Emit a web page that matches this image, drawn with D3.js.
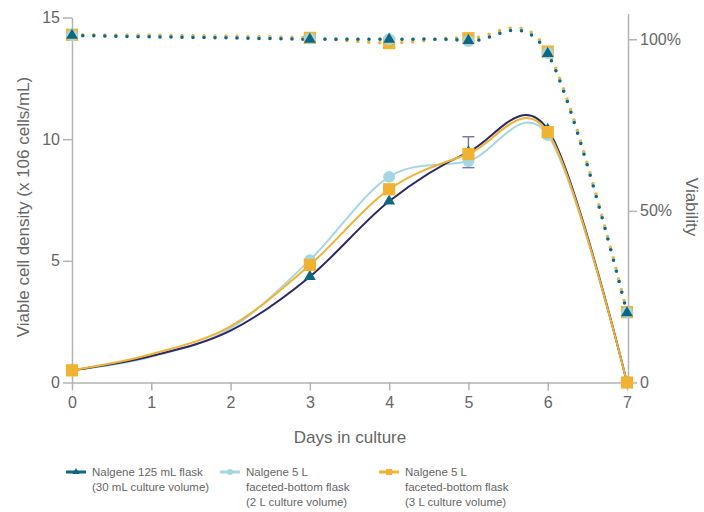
<!DOCTYPE html>
<html>
<head>
<meta charset="utf-8">
<script src="https://cdn.jsdelivr.net/npm/d3@7"></script>
<style>
  body { margin: 0; background: #fff; }
  text { font-family: "Liberation Sans", Arial, sans-serif; fill: #666; }
</style>
</head>
<body>
<script>
// days with values (days 1 and 2 are drawn without markers)
const days = [0, 1, 2, 3, 4, 5, 6, 7];
const markerDays = [0, 3, 4, 5, 6, 7];

// viable cell density (x10^6 cells/mL)
const vcd125 = [0.5, 1.09, 2.13, 4.35, 7.45, 9.47, 10.4, 0];
const vcd5L2 = [0.5, 1.06, 2.23, 5.03, 8.45, 9.1, 10.17, 0];
const vcd5L3 = [0.5, 1.16, 2.31, 4.83, 7.94, 9.39, 10.29, 0];

// error bar on the 125 mL flask at day 5
const errDay = 5;
const errLow = 8.83;
const errHigh = 10.1;

// viability (%)
const via125 = [101.1, 100.7, 100.4, 100, 100, 99.6, 95.8, 20.3];
const via5L2 = [101.2, 100.8, 100.5, 100.2, 100, 99.5, 96, 20.4];
const via5L3 = [101.3, 101.2, 100.9, 100.4, 98.9, 100.3, 96.4, 20.5];

const xTicks = [0, 1, 2, 3, 4, 5, 6, 7];
const yTicks = [0, 5, 10, 15];
const rTicks = [0, 50, 100];

const legendLabels = [
  ["Nalgene 125 mL flask", "(30 mL culture volume)"],
  ["Nalgene 5 L", "faceted-bottom flask", "(2 L culture volume)"],
  ["Nalgene 5 L", "faceted-bottom flask", "(3 L culture volume)"]
];

let width = 704, height = 512;

const teal = "#0f6680", navy = "#2c2966", lightBlue = "#a5d7e1", orange = "#f0b232";
const axisColor = "#b3b3b3";

let svg = d3.select("body").append("svg")
  .attr("width", width)
  .attr("height", height);

let xScale = d3.scaleLinear().domain([0, 7]).range([72, 627]);
let yScale = d3.scaleLinear().domain([0, 15]).range([382.5, 17.5]);
let rScale = d3.scaleLinear().domain([0, 107.5]).range([382.5, 13.5]);

// axes
let xAxis = svg.append("g")
  .attr("transform", "translate(0,382.5)")
  .call(d3.axisBottom(xScale).tickValues(xTicks).tickFormat(d3.format("d")).tickSize(8).tickPadding(6).tickSizeOuter(0));
let yAxis = svg.append("g")
  .attr("transform", "translate(72,0)")
  .call(d3.axisLeft(yScale).tickValues(yTicks).tickSize(9).tickPadding(3).tickSizeOuter(0));
let rAxis = svg.append("g")
  .attr("transform", "translate(628,0)")
  .call(d3.axisRight(rScale).tickValues(rTicks).tickFormat(d => d === 0 ? "0" : d + "%").tickSize(9).tickPadding(3).tickSizeOuter(0));

svg.selectAll(".domain, .tick line").attr("stroke", axisColor).attr("stroke-width", 1.5);
svg.selectAll(".tick text").style("font-size", "16px").attr("fill", "#666");

// axis labels
svg.append("text")
  .attr("x", 350).attr("y", 443)
  .style("text-anchor", "middle").style("font-size", "17px")
  .text("Days in culture");
svg.append("text")
  .attr("transform", "translate(29,207) rotate(-90)")
  .style("text-anchor", "middle").style("font-size", "17px")
  .text("Viable cell density (x 106 cells/mL)");
svg.append("text")
  .attr("transform", "translate(686,207) rotate(90)")
  .style("text-anchor", "middle").style("font-size", "17px")
  .text("Viability");

const curve = d3.curveCardinal.tension(0);

function pts(vals) { return days.map((d, i) => [d, vals[i]]); }

// viability dotted lines
let vLine = d3.line().x(d => xScale(d[0])).y(d => rScale(d[1])).curve(curve);
[[via5L3, orange], [via5L2, lightBlue], [via125, teal]].forEach(([v, c]) => {
  svg.append("path")
    .attr("d", vLine(pts(v)))
    .attr("fill", "none")
    .attr("stroke", c)
    .attr("stroke-width", 3.5)
    .attr("stroke-linecap", "round")
    .attr("stroke-dasharray", "0 11");
});

// VCD solid lines
let line = d3.line().x(d => xScale(d[0])).y(d => yScale(d[1])).curve(curve);
[[vcd5L2, lightBlue], [vcd125, navy], [vcd5L3, orange]].forEach(([v, c]) => {
  svg.append("path")
    .attr("d", line(pts(v)))
    .attr("fill", "none")
    .attr("stroke", c)
    .attr("stroke-width", 2);
});

// error bar
let ex = xScale(errDay);
svg.append("line").attr("x1", ex).attr("x2", ex).attr("y1", yScale(errLow)).attr("y2", yScale(errHigh))
  .attr("stroke", "#7b79a3").attr("stroke-width", 1.5);
[errLow, errHigh].forEach(v => {
  svg.append("line").attr("x1", ex - 6).attr("x2", ex + 6).attr("y1", yScale(v)).attr("y2", yScale(v))
    .attr("stroke", "#7b79a3").attr("stroke-width", 1.5);
});

const triSym = d3.symbol().type(d3.symbolTriangle).size(60);
const circSym = d3.symbol().type(d3.symbolCircle).size(110);
const sqSym = d3.symbol().type(d3.symbolSquare).size(150);

function markers(vals, scale, sym, color) {
  svg.append("g").selectAll("path")
    .data(pts(vals).filter(d => markerDays.includes(d[0])))
    .enter().append("path")
    .attr("d", sym())
    .attr("transform", d => `translate(${xScale(d[0])},${scale(d[1])})`)
    .attr("fill", color);
}

// viability markers
markers(via5L3, rScale, sqSym, orange);
markers(via5L2, rScale, circSym, lightBlue);
markers(via125, rScale, triSym, teal);

// VCD markers
markers(vcd125, yScale, triSym, teal);
markers(vcd5L2, yScale, circSym, lightBlue);
markers(vcd5L3, yScale, sqSym, orange);

// legend
const legendX = [66, 220, 379];
const legendColors = [teal, lightBlue, orange];
const legendSyms = [
  d3.symbol().type(d3.symbolTriangle).size(22),
  d3.symbol().type(d3.symbolCircle).size(28),
  d3.symbol().type(d3.symbolSquare).size(36)
];
const legend = svg.selectAll(".legend")
  .data(legendLabels)
  .enter().append("g")
  .attr("class", "legend")
  .attr("transform", (d, i) => `translate(${legendX[i]},472)`);

legend.append("line")
  .attr("x1", 0).attr("x2", 20).attr("y1", 0).attr("y2", 0)
  .attr("stroke", (d, i) => legendColors[i])
  .attr("stroke-width", 3);
legend.append("path")
  .attr("transform", "translate(10,0)")
  .attr("d", (d, i) => legendSyms[i]())
  .attr("fill", (d, i) => legendColors[i]);
legend.append("text")
  .attr("x", 26).attr("y", 3.5)
  .style("font-size", "11.5px")
  .selectAll("tspan")
  .data(d => d)
  .enter().append("tspan")
  .attr("x", 26)
  .attr("dy", (d, i) => i === 0 ? 0 : 15)
  .text(d => d);
</script>
</body>
</html>
